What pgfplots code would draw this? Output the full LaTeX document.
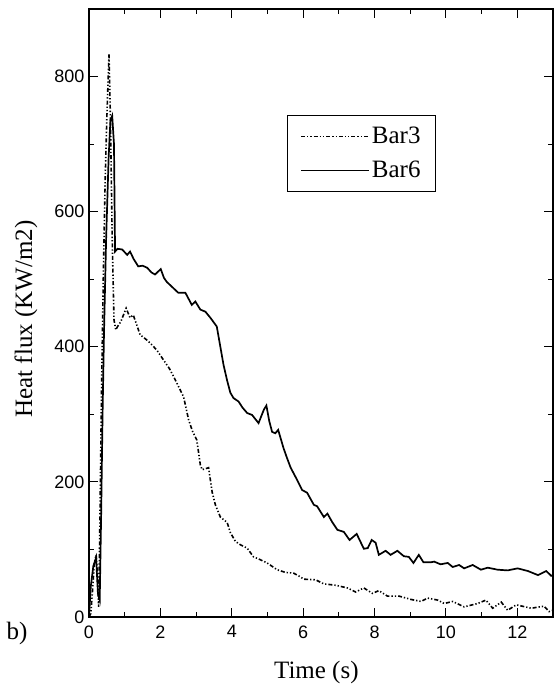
\documentclass[border=0pt]{standalone}
\usepackage{fontspec}
\setmainfont{Liberation Serif}
\newfontfamily\arialf{Liberation Sans}
\usepackage{pgfplots}
\pgfplotsset{compat=1.18}

\pgfplotstableread{
t v
0 0
0.05 5
0.1 40
0.15 80
0.2 92
0.24 60
0.27 15
0.3 120
0.35 330
0.4 500
0.45 640
0.5 740
0.56 833
0.6 740
0.65 560
0.7 440
0.75 425
0.8 430
0.89 437
1.04 457
1.15 443
1.24 447
1.34 432
1.43 418
1.62 410
1.76 403
1.9 395
2.08 381
2.25 368
2.37 356
2.5 342
2.65 326
2.79 292
2.9 275
3.02 262
3.12 225
3.17 218
3.35 221
3.45 185
3.54 166
3.68 148
3.87 140
3.96 125
4.1 112
4.24 107
4.43 102
4.61 89
4.75 86
4.99 80
5.27 70
5.5 66
5.73 65
5.87 61
6.02 56
6.35 55
6.58 49
6.91 47
7.24 43
7.47 37
7.7 43
7.94 35
8.12 39
8.36 31
8.68 31
9.02 26
9.3 23
9.49 28
9.77 25
9.95 20
10.19 23
10.51 15
10.89 20
11.12 25
11.31 13
11.55 22
11.73 10
11.97 18
12.39 13
12.75 16
12.89 8
13 10
}\barthree

\pgfplotstableread{
t v
0 0
0.05 45
0.12 75
0.2 88
0.25 35
0.3 25
0.34 150
0.38 300
0.42 420
0.48 560
0.55 680
0.6 735
0.65 742
0.7 700
0.73 541
0.8 545
0.93 544
1.07 536
1.15 541
1.25 530
1.38 519
1.5 520
1.63 517
1.75 510
1.85 507
2.01 515
2.1 502
2.18 496
2.3 490
2.42 484
2.5 480
2.7 480
2.88 462
2.98 467
3.12 455
3.26 452
3.4 443
3.58 430
3.68 400
3.77 373
3.87 350
3.96 332
4.05 324
4.19 319
4.3 310
4.43 302
4.57 299
4.75 287
4.9 307
4.97 313
5.05 290
5.13 274
5.22 272
5.3 277
5.45 250
5.55 235
5.65 221
5.79 207
5.97 188
6.11 184
6.3 166
6.39 164
6.58 148
6.68 153
6.82 140
6.96 129
7.14 126
7.3 114
7.5 123
7.7 101
7.81 102
7.92 114
8.03 110
8.12 92
8.31 98
8.45 92
8.64 98
8.82 90
8.96 89
9.09 80
9.24 92
9.37 81
9.58 81
9.67 82
9.85 78
10.05 80
10.19 74
10.37 77
10.51 72
10.75 77
10.98 70
11.17 73
11.45 70
11.73 69
12.01 72
12.3 68
12.58 62
12.81 68
12.95 61
13 62
}\barsix

\begin{document}
\begin{tikzpicture}
\begin{axis}[
  scale only axis,
  width=464pt, height=608pt,
  at={(0,0)}, anchor=south west,
  xmin=0, xmax=13, ymin=0, ymax=900,
  xtick={0,2,...,12}, ytick={0,200,...,800},
  minor x tick num=1, minor y tick num=1,
  tick align=inside,
  major tick length=9pt, minor tick length=5pt,
  tick style={line width=1.1pt, black},
  axis line style={line width=1.6pt},
  /pgf/number format/assume math mode=true,
  tick label style={font=\arialf\fontsize{18}{20}\selectfont},
  xticklabel style={yshift=-5pt},
  yticklabel style={xshift=-1pt},
  label style={font=\fontsize{25}{28}\selectfont},
  xlabel={Time (s)},
  ylabel={Heat flux (KW/m2)},
  xlabel style={at={(axis description cs:0.49,-0.092)}, anchor=center},
  ylabel style={at={(axis description cs:-0.136,0.49)}, anchor=center, rotate=0},
  legend style={at={(axis description cs:0.748,0.826)}, anchor=north east,
    draw=black, line width=1.1pt, font=\fontsize{25}{28}\selectfont,
    inner xsep=13pt, inner ysep=10pt, row sep=12pt,
    nodes={inner sep=2pt}},
  legend cell align=left,
  legend image code/.code={\draw[#1] (0pt,0pt) -- (68pt,0pt);},
]
\addplot[black, line width=1.6pt,
  dash pattern=on 4pt off 2pt on 1.3pt off 2pt on 1.3pt off 2pt]
  table[x=t, y=v] {\barthree};
\addlegendentry{Bar3}
\addplot[black, line width=1.7pt] table[x=t, y=v] {\barsix};
\addlegendentry{Bar6}
\end{axis}
\node[font=\fontsize{25}{28}\selectfont, anchor=center] at (-72pt,-16pt) {b)};
\pgfresetboundingbox
\path (-89pt,-70pt) rectangle (468pt,617pt);
\end{tikzpicture}
\end{document}
